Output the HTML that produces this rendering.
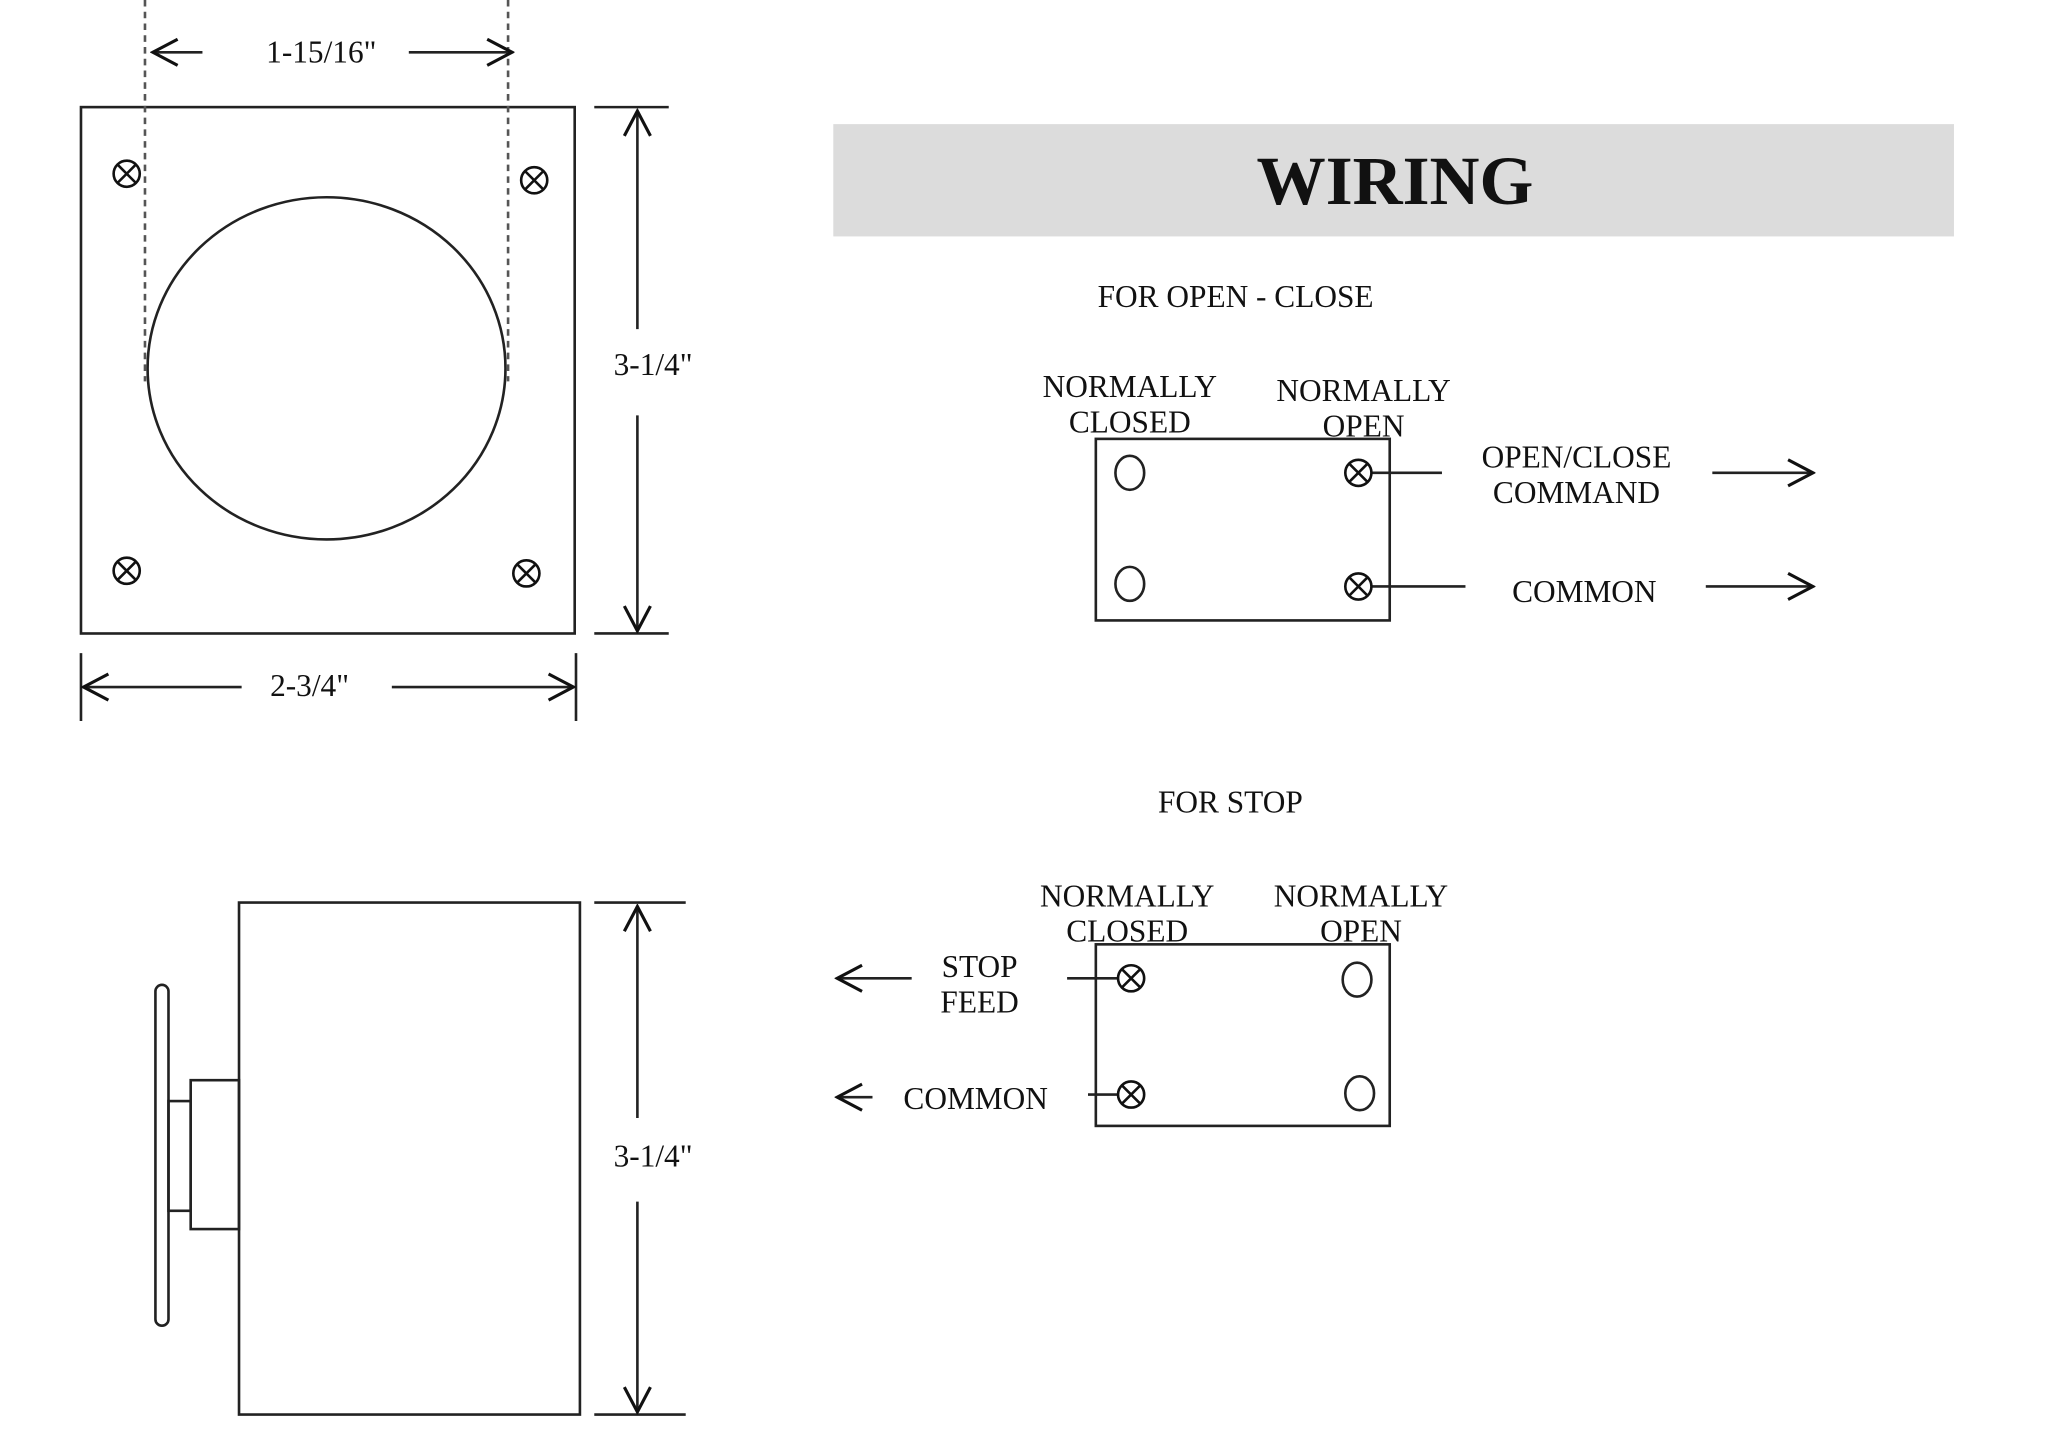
<!DOCTYPE html>
<html><head><meta charset="utf-8"><style>
html,body{margin:0;padding:0;background:#fff;}
svg{display:block;}
text{font-family:"Liberation Serif",serif;fill:#111;}
</style></head><body>
<svg width="2048" height="1442" viewBox="0 0 1568 1104" xmlns="http://www.w3.org/2000/svg">
<defs>
<marker id="a" viewBox="0 0 24 24" refX="22" refY="12" markerWidth="24" markerHeight="24" markerUnits="userSpaceOnUse" orient="auto-start-reverse">
<path d="M3 2 L22 12 L3 22" fill="none" stroke="#111" stroke-width="2.4"/>
</marker>
<g id="x"><circle r="10" fill="none" stroke="#111" stroke-width="2"/><path d="M-7 -7 L7 7 M7 -7 L-7 7" stroke="#111" stroke-width="2"/></g>
</defs>
<g fill="none" stroke="#222" stroke-width="2">
<rect x="62" y="82" width="378" height="403"/>
<ellipse cx="250" cy="282" rx="137" ry="131"/>
<line x1="111" y1="0" x2="111" y2="292" stroke-dasharray="5 4" stroke="#555"/>
<line x1="389" y1="0" x2="389" y2="292" stroke-dasharray="5 4" stroke="#555"/>
<line x1="155" y1="40" x2="117" y2="40" marker-end="url(#a)"/>
<line x1="313" y1="40" x2="392" y2="40" marker-end="url(#a)"/>
<line x1="455" y1="82" x2="512" y2="82"/>
<line x1="455" y1="485" x2="512" y2="485"/>
<line x1="488" y1="252" x2="488" y2="85" marker-end="url(#a)"/>
<line x1="488" y1="318" x2="488" y2="483" marker-end="url(#a)"/>
<line x1="62" y1="500" x2="62" y2="552"/>
<line x1="441" y1="500" x2="441" y2="552"/>
<line x1="185" y1="526" x2="64" y2="526" marker-end="url(#a)"/>
<line x1="300" y1="526" x2="439" y2="526" marker-end="url(#a)"/>
<rect x="183" y="691" width="261" height="392"/>
<line x1="455" y1="691" x2="525" y2="691"/>
<line x1="455" y1="1083" x2="525" y2="1083"/>
<line x1="488" y1="856" x2="488" y2="694" marker-end="url(#a)"/>
<line x1="488" y1="920" x2="488" y2="1081" marker-end="url(#a)"/>
<rect x="119" y="754" width="10" height="261" rx="5"/>
<rect x="129" y="843" width="17" height="84"/>
<rect x="146" y="827" width="37" height="114"/>
<rect x="839" y="336" width="225" height="139"/>
<ellipse cx="865" cy="362" rx="11" ry="13"/>
<ellipse cx="865" cy="447" rx="11" ry="13"/>
<line x1="1050" y1="362" x2="1104" y2="362"/>
<line x1="1050" y1="449" x2="1122" y2="449"/>
<line x1="1311" y1="362" x2="1388" y2="362" marker-end="url(#a)"/>
<line x1="1306" y1="449" x2="1388" y2="449" marker-end="url(#a)"/>
<rect x="839" y="723" width="225" height="139"/>
<ellipse cx="1039" cy="750" rx="11" ry="13"/>
<ellipse cx="1041" cy="837" rx="11" ry="13"/>
<line x1="817" y1="749" x2="856" y2="749"/>
<line x1="833" y1="838" x2="856" y2="838"/>
<line x1="698" y1="749" x2="641" y2="749" marker-end="url(#a)"/>
<line x1="668" y1="840" x2="641" y2="840" marker-end="url(#a)"/>
</g>
<use href="#x" x="97" y="133"/><use href="#x" x="409" y="138"/>
<use href="#x" x="97" y="437"/><use href="#x" x="403" y="439"/>
<use href="#x" x="1040" y="362"/><use href="#x" x="1040" y="449"/>
<use href="#x" x="866" y="749"/><use href="#x" x="866" y="838"/>
<rect x="638" y="95" width="858" height="86" fill="#dcdcdc"/>
<text x="1068" y="156" font-size="53" font-weight="bold" text-anchor="middle">WIRING</text>
<g font-size="24" text-anchor="middle">
<text x="246" y="48">1-15/16"</text>
<text x="500" y="287">3-1/4"</text>
<text x="237" y="533">2-3/4"</text>
<text x="500" y="893">3-1/4"</text>
<text x="946" y="235">FOR OPEN - CLOSE</text>
<text x="865" y="304">NORMALLY</text>
<text x="865" y="331">CLOSED</text>
<text x="1044" y="307">NORMALLY</text>
<text x="1044" y="334">OPEN</text>
<text x="1207" y="358">OPEN/CLOSE</text>
<text x="1207" y="385">COMMAND</text>
<text x="1213" y="461">COMMON</text>
<text x="942" y="622">FOR STOP</text>
<text x="863" y="694">NORMALLY</text>
<text x="863" y="721">CLOSED</text>
<text x="1042" y="694">NORMALLY</text>
<text x="1042" y="721">OPEN</text>
<text x="750" y="748">STOP</text>
<text x="750" y="775">FEED</text>
<text x="747" y="849">COMMON</text>
</g>
</svg>
</body></html>
